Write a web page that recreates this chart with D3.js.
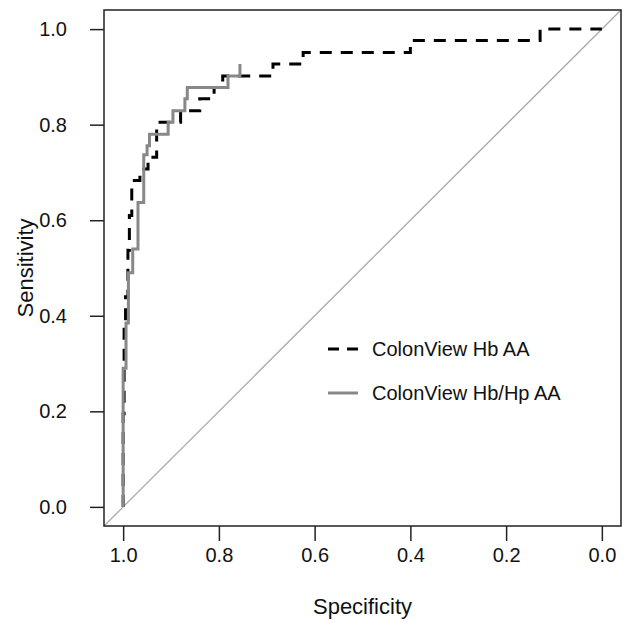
<!DOCTYPE html>
<html>
<head>
<meta charset="utf-8">
<script src="https://cdn.jsdelivr.net/npm/d3@7"></script>
<style>
  body { margin: 0; background: #fff; }
  svg { display: block; font-family: "Liberation Sans", Arial, Helvetica, sans-serif; }
  .tick text { font-size: 20px; fill: #111; }
  .tick line { stroke: #222; stroke-width: 1.5; }
</style>
</head>
<body>
<svg width="628" height="623"></svg>
<script>
// tick labels
var specTicks = [1.0, 0.8, 0.6, 0.4, 0.2, 0.0];
var sensTicks = [0.0, 0.2, 0.4, 0.6, 0.8, 1.0];

// ColonView Hb AA (corners of the step curve)
var hbSpec = [1.0, 1.0, 0.998, 0.998, 0.995, 0.995, 0.99, 0.99, 0.987, 0.987, 0.982, 0.982, 0.965, 0.965, 0.948, 0.948,
  0.93, 0.93, 0.88, 0.88, 0.84, 0.84, 0.81, 0.81, 0.792, 0.792, 0.687, 0.687, 0.624, 0.624, 0.40, 0.40, 0.129, 0.129, 0.0];
var hbSens = [0.0, 0.195, 0.195, 0.39, 0.39, 0.44, 0.44, 0.537, 0.537, 0.61, 0.61, 0.683, 0.683, 0.707, 0.707, 0.732,
  0.732, 0.805, 0.805, 0.829, 0.829, 0.854, 0.854, 0.878, 0.878, 0.902, 0.902, 0.927, 0.927, 0.951, 0.951, 0.976, 0.976, 1.0, 1.0];

// ColonView Hb/Hp AA
var hbhpSpec = [1.0, 1.0, 0.994, 0.994, 0.989, 0.989, 0.98, 0.98, 0.969, 0.969, 0.957, 0.957, 0.95, 0.95, 0.945, 0.945,
  0.906, 0.906, 0.896, 0.896, 0.871, 0.871, 0.866, 0.866, 0.781, 0.781, 0.756, 0.756];
var hbhpSens = [0.0, 0.29, 0.29, 0.385, 0.385, 0.49, 0.49, 0.54, 0.54, 0.637, 0.637, 0.737, 0.737, 0.756, 0.756, 0.78,
  0.78, 0.805, 0.805, 0.829, 0.829, 0.854, 0.854, 0.878, 0.878, 0.902, 0.902, 0.927];

var legendNames = ["ColonView Hb AA", "ColonView Hb/Hp AA"];

var svg = d3.select("svg");

// plot box (window.top is taken, so boxTop etc.)
var boxLeft = 104, boxRight = 621, boxTop = 10, boxBottom = 526;

var x = d3.scaleLinear().domain([1.04, -0.04]).range([boxLeft, boxRight]);
var y = d3.scaleLinear().domain([-0.04, 1.04]).range([boxBottom, boxTop]);

const g = svg.append("g");

// chance line
g.append("line")
  .attr("x1", x(1.04)).attr("y1", y(-0.04))
  .attr("x2", x(-0.04)).attr("y2", y(1.04))
  .attr("stroke", "#aaa")
  .attr("stroke-width", 1.3);

var line = d3.line()
  .x(d => x(d[0]))
  .y(d => y(d[1]));

// dashed curve first, grey drawn over it
g.append("path")
  .datum(d3.zip(hbSpec, hbSens))
  .attr("d", line)
  .attr("fill", "none")
  .attr("stroke", "#000")
  .attr("stroke-width", 3)
  .attr("stroke-dasharray", "12,9");

g.append("path")
  .datum(d3.zip(hbhpSpec, hbhpSens))
  .attr("d", line)
  .attr("fill", "none")
  .attr("stroke", "#888")
  .attr("stroke-width", 3);

// box
svg.append("rect")
  .attr("x", boxLeft).attr("y", boxTop)
  .attr("width", boxRight - boxLeft).attr("height", boxBottom - boxTop)
  .attr("fill", "none")
  .attr("stroke", "#222")
  .attr("stroke-width", 1.5);

// axes
var xAxis = svg.append("g")
  .attr("transform", "translate(0," + boxBottom + ")")
  .call(d3.axisBottom(x).tickValues(specTicks).tickFormat(d3.format(".1f")).tickSize(15).tickPadding(7));
xAxis.select(".domain").remove();

var yAxis = svg.append("g")
  .attr("transform", "translate(" + boxLeft + ",0)")
  .call(d3.axisLeft(y).tickValues(sensTicks).tickFormat(d3.format(".1f")).tickSize(14).tickPadding(23));
yAxis.select(".domain").remove();

// axis titles
svg.append("text")
  .attr("x", (boxLeft + boxRight) / 2)
  .attr("y", 614)
  .attr("text-anchor", "middle")
  .attr("font-size", 22)
  .attr("fill", "#111")
  .text("Specificity");

svg.append("text")
  .attr("transform", "translate(33," + (boxTop + boxBottom) / 2 + ") rotate(-90)")
  .attr("text-anchor", "middle")
  .attr("font-size", 22)
  .attr("fill", "#111")
  .text("Sensitivity");

// legend
var legend = svg.append("g");
var legendY = [349, 393];

legend.selectAll("line")
  .data(legendNames)
  .enter()
  .append("line")
    .attr("x1", 328).attr("x2", 358)
    .attr("y1", (d, i) => legendY[i]).attr("y2", (d, i) => legendY[i])
    .attr("stroke", (d, i) => i == 0 ? "#000" : "#888")
    .attr("stroke-width", 3)
    .attr("stroke-dasharray", (d, i) => i == 0 ? "11,8" : null);

legend.selectAll("text")
  .data(legendNames)
  .enter()
  .append("text")
    .attr("x", 372)
    .attr("y", (d, i) => legendY[i] + 7)
    .attr("font-size", 20)
    .attr("fill", "#111")
    .text(d => d);
</script>
</body>
</html>
